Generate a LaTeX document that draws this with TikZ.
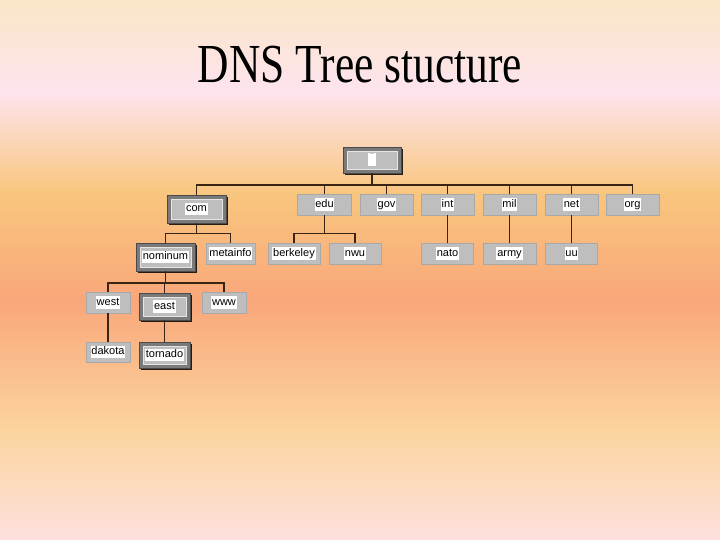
\documentclass[tikz,border=0pt]{standalone}
\usepackage{fontspec}
\setsansfont{Liberation Sans}
\newfontfamily\titlefont{Liberation Serif}
\usetikzlibrary{shadows}
\definecolor{bgA}{HTML}{FAE6C6}
\definecolor{bgB}{HTML}{FDE4EE}
\definecolor{bgC}{HTML}{F9C67E}
\definecolor{bgD}{HTML}{F9A77A}
\definecolor{bgE}{HTML}{FBD49E}
\definecolor{bgF}{HTML}{FDE0DE}
\definecolor{boxgray}{HTML}{BEBEBE}
\definecolor{boxedge}{HTML}{A8A8A8}
\definecolor{hgray}{HTML}{7A7A7A}
\definecolor{hedge}{HTML}{4A4A4A}
\definecolor{lineclr}{HTML}{3A2414}
\pgfdeclareverticalshading{slidebg}{100bp}{color(0bp)=(bgF); color(25bp)=(bgF); color(35.19bp)=(bgE); color(47.22bp)=(bgD); color(57.13bp)=(bgC); color(66.57bp)=(bgB); color(75bp)=(bgA); color(100bp)=(bgA)}
\newcommand\lab[1]{{\setlength\fboxsep{0.8pt}\colorbox{white}{\rule[-2.6pt]{0pt}{10.8pt}#1}}}
\tikzset{
  pbox/.style={draw=boxedge, fill=boxgray, line width=0.6pt, inner sep=0pt,
    font=\sffamily\fontsize{11}{12}\selectfont},
  hbox/.style={pbox, fill=hgray, draw=hedge,
    drop shadow={shadow xshift=2pt, shadow yshift=-2pt, fill=black, opacity=0.85},
    path picture={
      \fill[boxgray] ([xshift=4pt,yshift=-4pt]path picture bounding box.north west)
        rectangle ([xshift=-4pt,yshift=4pt]path picture bounding box.south east);
      \draw[white!80!gray, line width=0.8pt] ([xshift=4pt,yshift=-4pt]path picture bounding box.north west)
        rectangle ([xshift=-4pt,yshift=4pt]path picture bounding box.south east);
    }},
  conn/.style={draw=lineclr, line width=1.2pt},
  rootmk/.style={fill=white, minimum width=8pt, minimum height=13pt, inner sep=0pt}
}
\begin{document}
\begin{tikzpicture}[x=1pt, y=-1pt]
\begin{scope}[y=1pt]
  \shade[shading=slidebg] (0,-540) rectangle (720,0);
\end{scope}
\useasboundingbox (0,0) rectangle (720,540);

% title
\node[anchor=base, inner sep=0pt, font=\titlefont\fontsize{55}{60}\selectfont] (title) at (360,83)
  {\scalebox{0.79}[1]{DNS Tree stucture}};

% root
\node[hbox, minimum width=58pt, minimum height=26pt] (root) at (372,160) {};
\node[rootmk] (rootmark) at (root.center) {};
\node[font=\sffamily\fontsize{5}{5}\selectfont, inner sep=0pt, below=0.5pt] (rootdots) at (rootmark.north) {...};

% level 1
\node[hbox, minimum width=59pt, minimum height=28pt] (com) at (196.5,209) {\lab{com}};
\node[pbox, minimum width=54pt, minimum height=21pt] (edu) at (324.5,204.5) {\lab{edu}};
\node[pbox, minimum width=53pt, minimum height=21pt] (gov) at (386.5,204.5) {\lab{gov}};
\node[pbox, minimum width=53pt, minimum height=21pt] (int) at (447.5,204.5) {\lab{int}};
\node[pbox, minimum width=53pt, minimum height=21pt] (mil) at (509.5,204.5) {\lab{mil}};
\node[pbox, minimum width=53pt, minimum height=21pt] (net) at (571.5,204.5) {\lab{net}};
\node[pbox, minimum width=53pt, minimum height=21pt] (org) at (632.5,204.5) {\lab{org}};

% level 2
\node[hbox, minimum width=59pt, minimum height=28pt] (nominum) at (165.5,257) {\lab{nominum}};
\node[pbox, minimum width=49pt, minimum height=21pt] (metainfo) at (230.5,253.5) {\lab{metainfo}};
\node[pbox, minimum width=52pt, minimum height=21pt] (berkeley) at (294,253.5) {\lab{berkeley}};
\node[pbox, minimum width=52pt, minimum height=21pt] (nwu) at (355,253.5) {\lab{nwu}};
\node[pbox, minimum width=52pt, minimum height=21pt] (nato) at (447.5,253.5) {\lab{nato}};
\node[pbox, minimum width=53pt, minimum height=21pt] (army) at (509.5,253.5) {\lab{army}};
\node[pbox, minimum width=52pt, minimum height=21pt] (uu) at (571.5,253.5) {\lab{uu}};

% level 3
\node[pbox, minimum width=44pt, minimum height=21pt] (west) at (108,302.5) {\lab{west}};
\node[hbox, minimum width=51pt, minimum height=27pt] (east) at (164.5,306.5) {\lab{east}};
\node[pbox, minimum width=44pt, minimum height=21pt] (www) at (224,302.5) {\lab{www}};

% level 4
\node[pbox, minimum width=44pt, minimum height=20pt] (dakota) at (108,352) {\lab{dakota}};
\node[hbox, minimum width=51pt, minimum height=26pt] (tornado) at (164.5,355) {\lab{tornado}};

% connectors
\coordinate (busroot) at (372,185);
\draw[conn] (root.south) -- (busroot);
\foreach \c in {com,edu,gov,int,mil,net,org}
  \draw[conn] (\c.north) |- (busroot);

\coordinate (buscom) at (196.5,233.5);
\draw[conn] (com.south) -- (buscom);
\foreach \c in {nominum,metainfo}
  \draw[conn] (\c.north) |- (buscom);

\coordinate (busedu) at (324.5,233.5);
\draw[conn] (edu.south) -- (busedu);
\foreach \c in {berkeley,nwu}
  \draw[conn] (\c.north) |- (busedu);

\draw[conn] (int.south) -- (nato.north);
\draw[conn] (mil.south) -- (army.north);
\draw[conn] (net.south) -- (net.south |- uu.north);

\coordinate (busnom) at (165.5,283);
\draw[conn] (nominum.south) -- (busnom);
\foreach \c in {west,east,www}
  \draw[conn] (\c.north) |- (busnom);

\draw[conn] (west.south) -- (dakota.north);
\draw[conn] (east.south) -- (tornado.north);
\end{tikzpicture}
\end{document}
